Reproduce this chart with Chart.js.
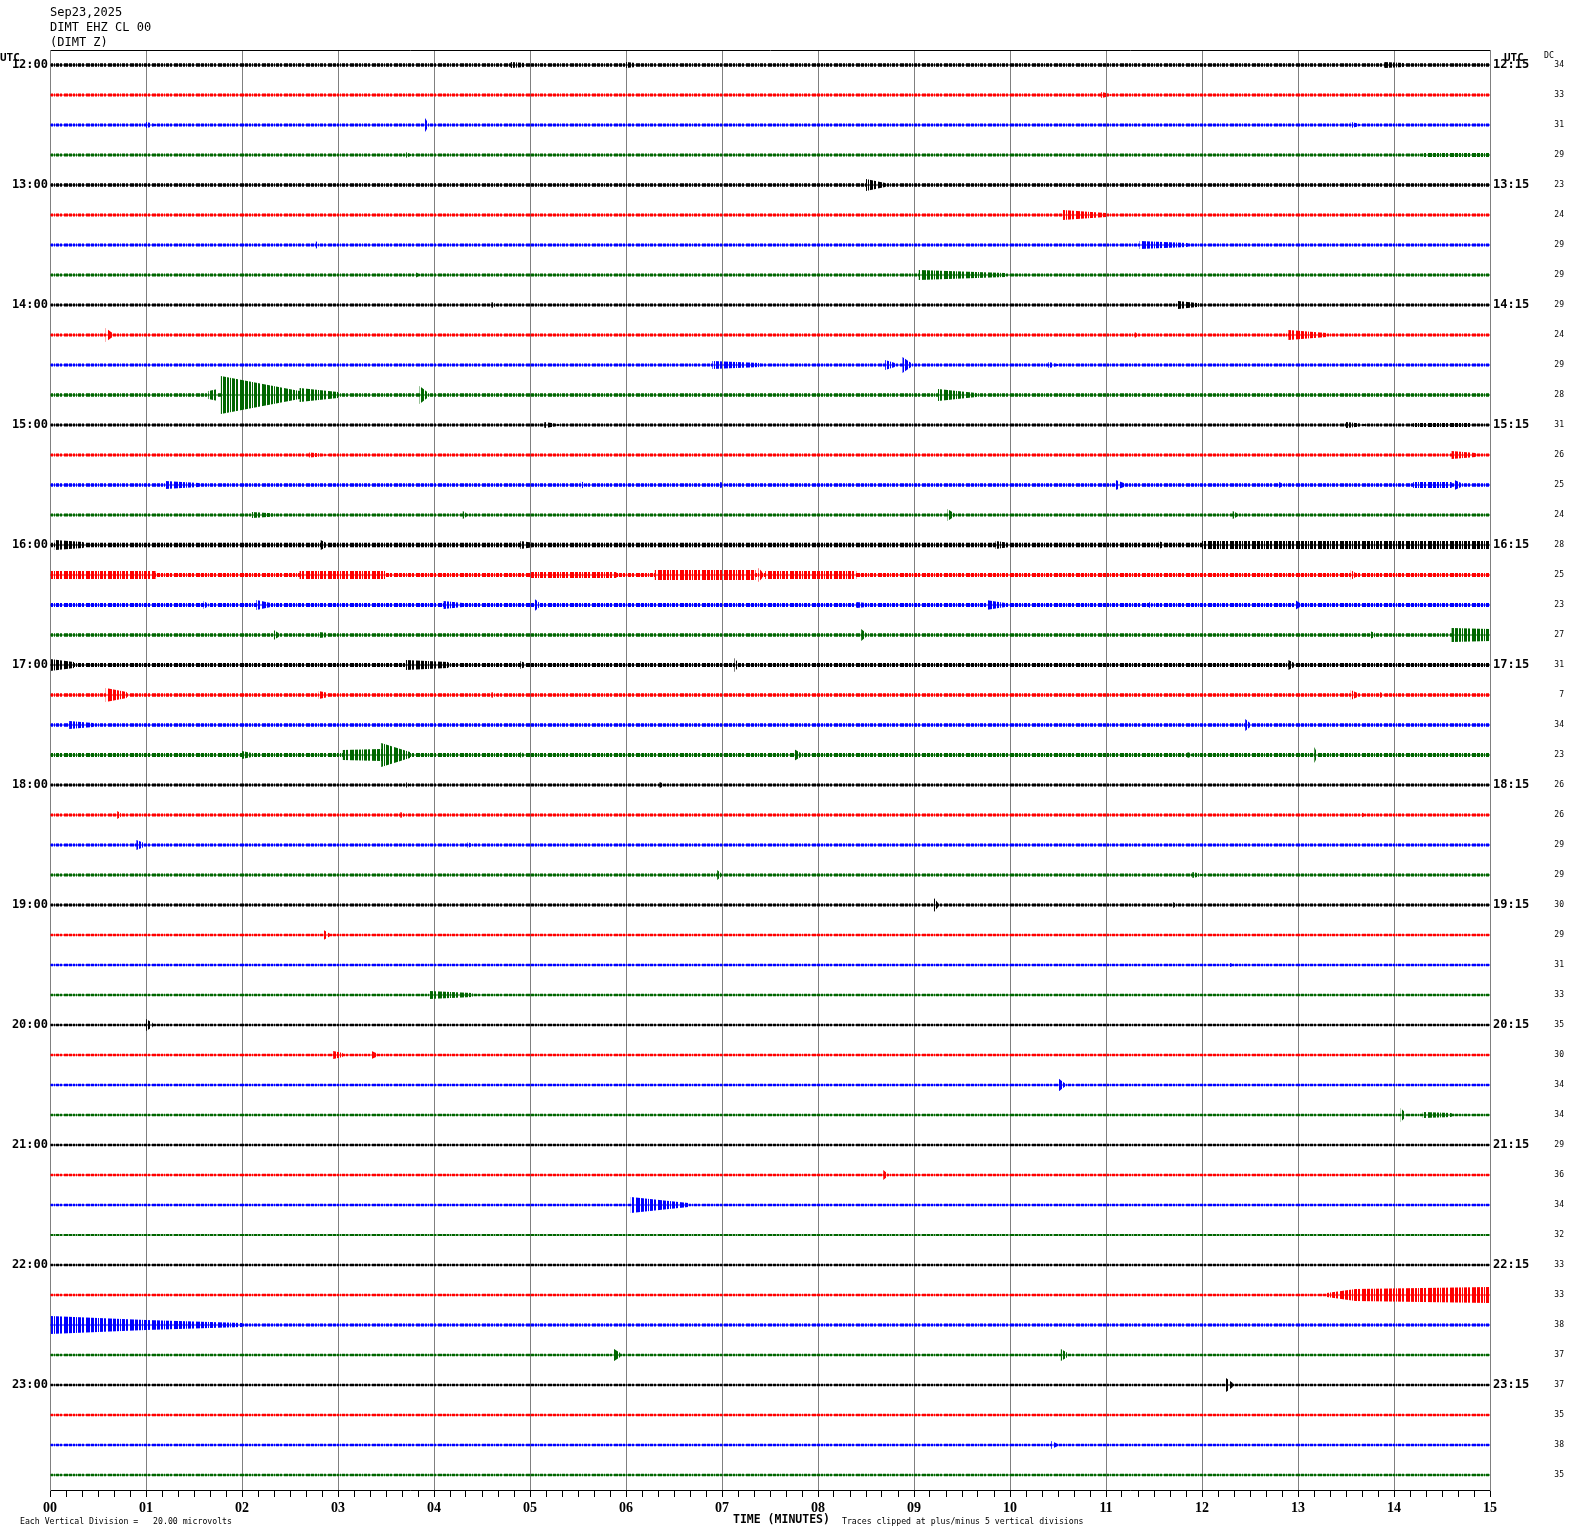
<!DOCTYPE html>
<html>
<head>
<meta charset="utf-8">
<script src="https://cdn.jsdelivr.net/npm/chart.js@4.4.1/dist/chart.umd.min.js"></script>
<style>
  body { margin: 0; background: #fff; }
  #wrap { position: relative; width: 1570px; height: 1534px; }
  .t { position: absolute; white-space: pre; color: #000; line-height: 1; }
  .hdr { font: 12px "DejaVu Sans Mono", monospace; }
  .utc { font: bold 11px "DejaVu Sans Mono", monospace; }
  .small { font: 8.2px "DejaVu Sans Mono", monospace; }
  .ttl { font: bold 11.5px "DejaVu Sans Mono", monospace; }
</style>
</head>
<body>
<div id="wrap">
  <canvas id="heli" width="1570" height="1534"></canvas>
  <div class="t hdr" style="left:50px;top:5px">Sep23,2025</div>
  <div class="t hdr" style="left:50px;top:20px">DIMT EHZ CL 00</div>
  <div class="t hdr" style="left:50px;top:35px">(DIMT Z)</div>
  <div class="t utc" style="left:0px;top:51px">UTC</div>
  <div class="t utc" style="left:1504px;top:51px">UTC</div>
  <div class="t small" style="left:1544px;top:50px">DC</div>
  <div class="t small" style="left:20px;top:1516px">Each Vertical Division =   20.00 microvolts</div>
  <div class="t ttl" style="left:733px;top:1512px">TIME (MINUTES)</div>
  <div class="t small" style="left:842px;top:1516px">Traces clipped at plus/minus 5 vertical divisions</div>
</div>
<script>
// helicorder DIMT EHZ, 15 minutes per line
const minuteLabels = ['00','01','02','03','04','05','06','07','08','09','10','11','12','13','14','15'];
const hourLabels = ['12:00','13:00','14:00','15:00','16:00','17:00','18:00','19:00','20:00','21:00','22:00','23:00'];
const rightLabels = ['12:15','13:15','14:15','15:15','16:15','17:15','18:15','19:15','20:15','21:15','22:15','23:15'];
const dcValues = [34,33,31,29,23,24,29,29,29,24,29,28,31,26,25,24,28,25,23,27,31,7,34,23,
                  26,26,29,29,30,29,31,33,35,30,34,34,29,36,34,32,33,33,38,37,37,35,38,35];
const traceColors = ['#000000', '#ff0000', '#0000ff', '#006600'];

// background noise half-amplitude of each line (1/30 of a line spacing)
const noise = [1.8,1.5,1.5,1.4,1.8,1.4,1.4,1.5,1.4,1.4,1.5,1.8,1.5,1.4,1.8,1.5,
               2.3,2.1,1.9,1.8,2.0,1.8,1.8,1.9,1.5,1.5,1.5,1.4,1.4,1.3,1.2,1.3,
               1.3,1.3,1.3,1.3,1.2,1.2,1.2,1.1,1.2,1.3,1.4,1.3,1.3,1.2,1.2,1.2];

// events: [line, start min, end min, amp at start, amp at end]
const events = [
  [0,4.8,4.95,3,2],[0,6.0,6.1,3,2],[0,13.9,14.1,3,2],
  [1,10.95,11.05,3,1],
  [2,1.0,1.1,3,1],[2,3.9,3.94,8,2],[2,13.55,13.65,3,1],
  [3,3.7,3.76,3,1],[3,14.3,15,2,2],
  [4,8.5,8.7,6,2],
  [5,10.55,11.0,5,2],
  [6,2.77,2.8,4,1],[6,11.35,11.85,4,2],
  [7,3.8,3.85,3,1],[7,9.05,9.95,5,2],
  [8,4.6,4.65,3,1],[8,11.75,12.0,4,1.5],
  [9,0.58,0.65,7,2],[9,11.3,11.33,3,1],[9,12.9,13.3,5,2],
  [10,6.9,7.4,4,2],[10,8.7,8.8,5,2],[10,8.88,8.97,8,2],[10,10.4,10.5,3,1],
  [11,1.65,1.75,4,6],[11,1.78,2.6,19,4],[11,2.6,3.0,7,3],[11,3.85,3.93,9,3],[11,9.25,9.65,6,2],
  [12,5.15,5.3,3,1],[12,13.5,13.7,3,1],[12,14.2,14.8,2,2],
  [13,2.7,2.9,2.5,1],[13,14.6,14.85,4,2],
  [14,1.2,1.55,4,2],[14,5.53,5.58,4,1],[14,6.98,7.05,3,1],[14,11.1,11.2,5,1.5],[14,12.8,12.85,3,1],[14,14.2,14.6,3,3],[14,14.63,14.7,5,2],
  [15,2.1,2.35,3,1.5],[15,4.3,4.35,4,1],[15,9.35,9.42,6,1.5],[15,12.32,12.38,4,1],
  [16,0.05,0.35,5,3],[16,2.82,2.88,5,2],[16,4.9,5.05,4,2],[16,9.85,10.0,4,2],[16,11.55,11.6,4,2],[16,12.0,15,4,4],
  [17,0,1.1,4,4],[17,2.6,3.5,4,4],[17,5.0,5.9,3,3],[17,6.3,7.35,5,5],[17,7.38,7.42,7,3],[17,7.45,8.4,4,4],[17,13.55,13.6,5,2],
  [18,1.6,1.65,4,1],[18,2.15,2.3,5,2],[18,4.1,4.3,4,2],[18,5.05,5.1,6,2],[18,8.4,8.5,3,2],[18,9.75,9.95,5,2],[18,11.45,11.5,3,1],[18,12.97,13.02,5,2],
  [19,2.33,2.38,5,2],[19,2.8,2.9,3,2],[19,8.45,8.5,6,2],[19,13.75,13.8,4,2],[19,14.6,15,7,6],
  [20,0,0.25,6,3],[20,3.7,4.15,5,3],[20,4.9,4.95,4,2],[20,7.13,7.17,7,2],[20,12.9,12.96,5,2],
  [21,0.58,0.8,7,3],[21,2.8,2.9,4,2],[21,4.6,4.65,3,1],[21,13.55,13.62,5,2],[21,13.85,13.9,3,1],
  [22,0.2,0.45,4,2],[22,12.45,12.5,6,2],
  [23,2.0,2.1,4,2],[23,3.05,3.45,5,6],[23,3.45,3.75,12,3],[23,4.9,4.95,3,1],[23,7.75,7.82,6,2],[23,11.85,11.9,3,1],[23,13.17,13.2,8,2],
  [24,3.7,3.75,3,1],[24,6.35,6.4,3,1],
  [25,0.7,0.75,4,1],[25,3.65,3.7,3,1],[25,13.65,13.7,3,1],
  [26,0.9,0.98,5,2],[26,4.35,4.4,3,1],
  [27,6.95,7.0,5,1],[27,11.9,12.0,3,1],
  [28,9.2,9.25,8,2],[28,11.7,11.73,3,1],
  [29,2.85,2.92,5,1],
  [30,12.28,12.32,2.5,1],
  [31,3.95,4.4,4,2],
  [32,1.0,1.07,6,2],
  [33,2.95,3.05,4,2],[33,3.35,3.42,4,1],
  [34,10.5,10.58,7,1],
  [35,14.07,14.12,7,2],[35,14.3,14.6,3,2],
  [37,8.68,8.73,5,1],
  [38,6.05,6.65,8,2],
  [41,13.3,13.6,2,6],[41,13.6,15,6,8],
  [42,0,1.0,9,5],[42,1.0,2.0,5,2],
  [43,5.86,5.94,7,2],[43,10.53,10.6,6,2],
  [44,12.25,12.32,7,2],
  [46,10.43,10.5,4,1]
];

const PX = 30; // amplitude units per line spacing

function envelope(line) {
  const n = noise[line];
  const pts = [[0, n]];
  events.filter(e => e[0] === line).sort((a, b) => a[1] - b[1]).forEach(e => {
    pts.push([e[1], n], [e[1], e[3]], [e[2], e[4]], [e[2], n]);
  });
  pts.push([15, n]);
  return pts;
}

// uneven vertical hatch so the filled envelopes read like dense wiggles
const hatchBits = '1101110110101110110011';
function hatch(col) {
  const c = document.createElement('canvas');
  c.width = hatchBits.length; c.height = 1;
  const g = c.getContext('2d');
  g.fillStyle = col;
  for (let k = 0; k < hatchBits.length; k++) if (hatchBits[k] === '1') g.fillRect(k, 0, 1, 1);
  return g.createPattern(c, 'repeat');
}

const datasets = [];
for (let i = 0; i < dcValues.length; i++) {
  const col = traceColors[i % 4];
  const env = envelope(i);
  const c = i + 0.5;
  datasets.push({
    data: env.map(p => ({ x: p[0], y: c - p[1] / PX })),
    borderWidth: 0, pointRadius: 0, fill: false, tension: 0
  });
  datasets.push({
    data: env.map(p => ({ x: p[0], y: c + p[1] / PX })),
    borderWidth: 0, backgroundColor: hatch(col), pointRadius: 0, fill: '-1', tension: 0
  });
  datasets.push({
    data: [{ x: 0, y: c }, { x: 15, y: c }],
    borderColor: col, borderWidth: 1.2, pointRadius: 0, fill: false
  });
}

const sixths = [];
for (let k = 0; k <= 90; k++) sixths.push(k / 6);
const hourRows = hourLabels.map((_, h) => h * 4 + 0.5);
const allRows = dcValues.map((_, i) => i + 0.5);
const timeFont = { family: 'DejaVu Sans Mono', size: 12, weight: 'bold' };

new Chart(document.getElementById('heli'), {
  type: 'line',
  data: { datasets: datasets },
  options: {
    responsive: false,
    animation: false,
    events: [],
    layout: { padding: { top: 50, left: 0, right: 6, bottom: 0 } },
    plugins: { legend: { display: false }, tooltip: { enabled: false } },
    scales: {
      x: {
        type: 'linear', position: 'bottom', min: 0, max: 15,
        afterBuildTicks: s => { s.ticks = sixths.map(v => ({ value: v })); },
        afterFit: s => { s.height = 44; },
        grid: {
          color: ctx => (ctx.tick && Math.abs(ctx.tick.value - Math.round(ctx.tick.value)) < 1e-6) ? '#808080' : 'rgba(0,0,0,0)',
          tickColor: '#000', tickLength: 7, lineWidth: 1
        },
        border: { color: '#000', width: 1 },
        ticks: {
          autoSkip: false, maxRotation: 0, padding: 3, color: '#000',
          font: { family: 'Liberation Serif', size: 14, weight: 'bold' },
          callback: v => {
            const r = Math.round(v);
            return Math.abs(v - r) < 1e-6 ? minuteLabels[r] : '';
          }
        }
      },
      xTop: {
        type: 'linear', position: 'top', min: 0, max: 15,
        afterFit: s => { s.height = 0; },
        grid: { drawOnChartArea: false, drawTicks: false },
        border: { color: '#000', width: 1 },
        ticks: { display: false }
      },
      y: {
        type: 'linear', position: 'left', min: 0, max: 48, reverse: true,
        afterBuildTicks: s => { s.ticks = hourRows.map(v => ({ value: v })); },
        afterFit: s => { s.width = 50; },
        grid: { drawOnChartArea: false, drawTicks: false },
        border: { color: '#808080' },
        ticks: {
          padding: 2, color: '#000', font: timeFont,
          callback: v => hourLabels[Math.round(v - 0.5) / 4]
        }
      },
      yR: {
        type: 'linear', position: 'right', min: 0, max: 48, reverse: true, weight: 0,
        afterBuildTicks: s => { s.ticks = hourRows.map(v => ({ value: v })); },
        afterFit: s => { s.width = 45; },
        grid: { drawOnChartArea: false, drawTicks: false },
        border: { color: '#808080' },
        ticks: {
          padding: 3, color: '#000', font: timeFont,
          callback: v => rightLabels[Math.round(v - 0.5) / 4]
        }
      },
      yDC: {
        type: 'linear', position: 'right', min: 0, max: 48, reverse: true, weight: 1,
        afterBuildTicks: s => { s.ticks = allRows.map(v => ({ value: v })); },
        afterFit: s => { s.width = 29; },
        grid: { display: false, drawTicks: false },
        border: { display: false },
        ticks: {
          padding: 7, color: '#000', crossAlign: 'far',
          font: { family: 'DejaVu Sans Mono', size: 8 },
          callback: v => String(dcValues[Math.round(v - 0.5)])
        }
      }
    }
  }
});
</script>
</body>
</html>
